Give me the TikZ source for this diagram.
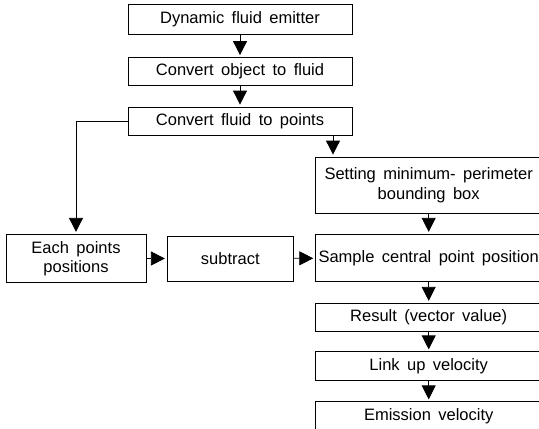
\documentclass[tikz,border=0pt]{standalone}
\usepackage{fontspec}
\setmainfont{Liberation Sans}
\usetikzlibrary{arrows.meta}
\newcommand\flowfont{\fontsize{16.5}{19.5}\selectfont\setlength{\spaceskip}{0.45em plus 0.1em}}
\begin{document}
\begin{tikzpicture}[x=1pt,y=-1pt,
	box/.style={draw, line width=0.8pt, inner sep=1pt, align=center, font=\flowfont},
	flow/.style={-{Triangle[length=14pt,width=14pt]}, line width=0.8pt, shorten >=2pt},
	feed/.style={line width=0.6pt}]

		\clip (0,0) rectangle (539,429);

		% Upper column
		\node[box, minimum width=224pt, minimum height=30pt] (emitter) at (240,19.5) {Dynamic fluid emitter};
		\node[box, minimum width=224pt, minimum height=28pt] (convobj) at (240,71.5) {Convert object to fluid};
		\node[box, minimum width=224pt, minimum height=28pt] (convpts) at (240,121) {Convert fluid to points};
		\coordinate (split) at (333,0);

		% Right column
		\node[box, minimum width=226pt, minimum height=56pt] (setting) at (428.7,185) {Setting minimum- perimeter\\bounding box};
		\node[box, minimum width=226pt, minimum height=47.5pt] (sample) at (428.7,258) {Sample central point position};
		\node[box, minimum width=226pt, minimum height=28.5pt] (result) at (428.7,317.5) {Result (vector value)};
		\node[box, minimum width=226pt, minimum height=28.5pt] (link) at (428.7,366) {Link up velocity};
		\node[box, minimum width=226pt, minimum height=28.5pt] (emission) at (428.7,416) {Emission velocity};

		% Left row
		\node[box, minimum width=140pt, minimum height=48.5pt] (each) at (76,258.5) {Each points\\positions};
		\node[box, minimum width=126pt, minimum height=45pt] (subtract) at (230.3,258.5) {subtract};

		% Connectors
		\draw[flow] (emitter) -- (convobj);
		\draw[flow] (convobj) -- (convpts);
		\draw[flow] (convpts.south -| split) -- (setting.north -| split);
		\draw[feed, flow] (convpts.west) -| (each.north);
		\draw[flow] (setting) -- (sample);
		\draw[flow] (sample) -- (result);
		\draw[flow] (result) -- (link);
		\draw[flow] (link) -- (emission);
		\draw[flow] (each) -- (subtract);
		\draw[flow] (subtract) -- (sample);

	\end{tikzpicture}
\end{document}
